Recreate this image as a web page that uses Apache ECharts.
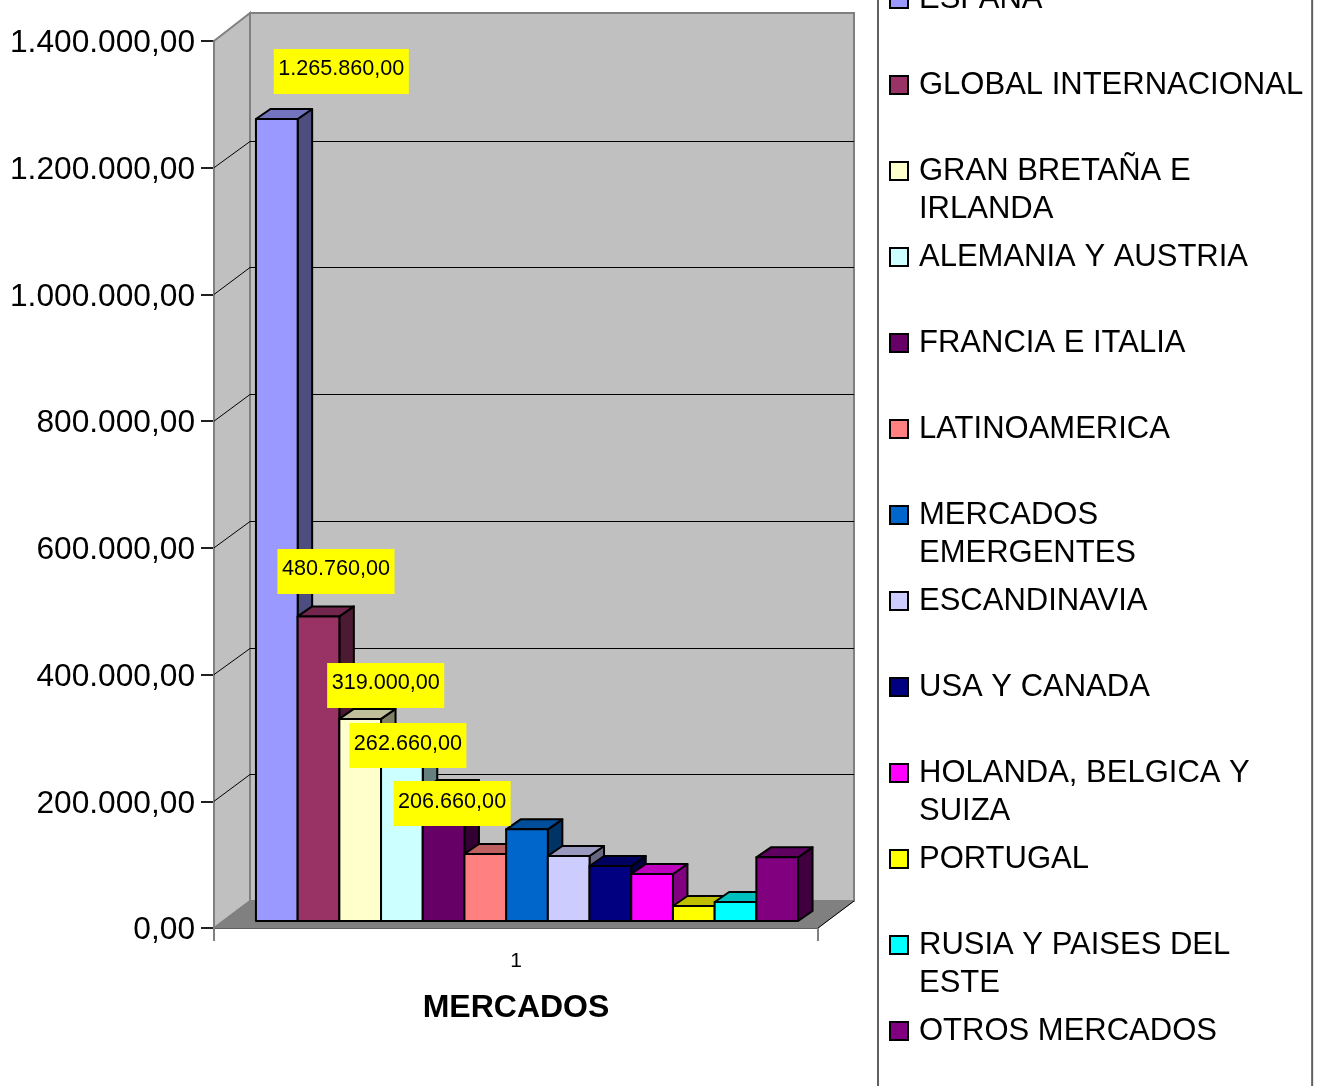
<!DOCTYPE html>
<html>
<head>
<meta charset="utf-8">
<style>html,body{margin:0;padding:0;background:#fff;overflow:hidden}#chart{width:1324px;height:1086px}</style>
<script src="https://cdn.jsdelivr.net/npm/echarts@6/dist/echarts.min.js"></script>
</head>
<body>
<div id="chart"></div>
<script>
// ---- data ----
const categories = ['1'];
const markets = ['ESPAÑA','GLOBAL INTERNACIONAL','GRAN BRETAÑA E\nIRLANDA','ALEMANIA Y AUSTRIA','FRANCIA E ITALIA','LATINOAMERICA','MERCADOS\nEMERGENTES','ESCANDINAVIA','USA Y CANADA','HOLANDA, BELGICA Y\nSUIZA','PORTUGAL','RUSIA Y PAISES DEL\nESTE','OTROS MERCADOS'];
const values = [1265860,480760,319000,262660,206660,105700,144700,102600,86800,74200,23700,30000,100500];
const labelled = [1265860,480760,319000,262660,206660];
const colors = ['#9999ff','#993366','#ffffcc','#ccffff','#660066','#ff8080','#0066cc','#ccccff','#000080','#ff00ff','#ffff00','#00ffff','#800080'];
const yTicks = [0,200000,400000,600000,800000,1000000,1200000,1400000];

// ---- layout ----
const WALL_DX = 36, WALL_DY = 27;
const BAR_W = 41.7, BAR_DX = 14.5, BAR_DY = 10, BAR_SHIFT_X = 11, BAR_SHIFT_Y = 7;
const labelNudge = [[64.5,25],[17.5,22.5],[25.5,11],[6,-13.5],[8.5,-36]];

const fmt = v => {
  const s = String(Math.round(v)).replace(/\B(?=(\d{3})+$)/g,'.');
  return s + ',00';
};
const shade = (hex,f) => {
  const n = parseInt(hex.slice(1),16);
  const c = [n>>16&255,n>>8&255,n&255].map(x=>Math.round(x*f));
  return 'rgb('+c.join(',')+')';
};

function barX(api,i){
  const cx = api.coord([0,0])[0];
  return cx - BAR_W*values.length/2 + BAR_SHIFT_X + i*BAR_W;
}

function renderFrame(params,api){
  const v = api.value(1);
  const p = api.coord([0,v]);
  const s = params.coordSys;
  const L = s.x, R = s.x+s.width, y = p[1];
  const kids = [];
  if(params.dataIndex===0){
    const T = s.y, B = s.y+s.height;
    kids.push({type:'polygon',shape:{points:[[L,T],[L+WALL_DX,T-WALL_DY-1],[L+WALL_DX,B-WALL_DY],[L,B]]},style:{fill:'#c0c0c0',stroke:'#808080',lineWidth:2},z2:1});
    kids.push({type:'rect',shape:{x:L+WALL_DX,y:T-WALL_DY-1,width:s.width,height:s.height+1},style:{fill:'#c0c0c0',stroke:'#808080',lineWidth:2},z2:1});
    kids.push({type:'polygon',shape:{points:[[L,B],[L+WALL_DX,B-WALL_DY],[R+WALL_DX,B-WALL_DY],[R,B]]},style:{fill:'#808080',stroke:'#808080',lineWidth:1},z2:2});
    kids.push({type:'line',shape:{x1:R,y1:B,x2:R+WALL_DX,y2:B-WALL_DY},style:{stroke:'#000',lineWidth:1},z2:3});
    return {type:'group',children:kids};
  }
  if(v<1400000){
    const by = Math.round(y-WALL_DY)+.5;
    kids.push({type:'line',shape:{x1:L,y1:y,x2:L+WALL_DX,y2:by},style:{stroke:'#000',lineWidth:1},z2:3});
    kids.push({type:'line',shape:{x1:L+WALL_DX,y1:by,x2:R+WALL_DX,y2:by},style:{stroke:'#000',lineWidth:1},z2:3});
  }
  return {type:'group',children:kids};
}

function renderBar(i){
  return function(params,api){
    const base = api.coord([0,0]);
    const top = api.coord([0,api.value(1)]);
    const x = barX(api,i), y0 = base[1]-BAR_SHIFT_Y, y1 = top[1]-BAR_SHIFT_Y;
    const w = BAR_W, c = colors[i], z = 10+i;
    const line = {stroke:'#000',lineWidth:2,lineJoin:'round'};
    return {type:'group',children:[
      {type:'polygon',z2:z,shape:{points:[[x+w,y1],[x+w+BAR_DX,y1-BAR_DY],[x+w+BAR_DX,y0-BAR_DY],[x+w,y0]]},style:Object.assign({fill:shade(c,.5)},line)},
      {type:'polygon',z2:z,shape:{points:[[x,y1],[x+BAR_DX,y1-BAR_DY],[x+w+BAR_DX,y1-BAR_DY],[x+w,y1]]},style:Object.assign({fill:shade(c,.75)},line)},
      {type:'rect',z2:z,shape:{x:x,y:y1,width:w,height:y0-y1},style:Object.assign({fill:c},line)}
    ]};
  };
}

function renderLabel(params,api){
  const i = params.dataIndex;
  const top = api.coord([0,api.value(1)]);
  const x = barX(api,i)+BAR_W/2+labelNudge[i][0];
  const y = top[1]-BAR_SHIFT_Y-labelNudge[i][1];
  return {type:'text',z2:100,style:{
    text:fmt(api.value(1)),x:x,y:y,align:'center',verticalAlign:'bottom',
    fill:'#000',font:'21.6px "Liberation Sans"',lineHeight:22,
    backgroundColor:'#ffff00',padding:[9.5,4.5,13.5,4.5]
  }};
}

const series = [
  {type:'custom',name:'frame',z:1,silent:true,clip:false,renderItem:renderFrame,encode:{x:0,y:1},
   data:yTicks.map(v=>[0,v])}
];
markets.forEach((m,i)=>{
  series.push({type:'custom',name:m,z:2,silent:true,clip:false,renderItem:renderBar(i),encode:{x:0,y:1},
    itemStyle:{color:colors[i]},data:[[0,values[i]]]});
});
series.push({type:'custom',name:'labels',z:2,silent:true,clip:false,renderItem:renderLabel,encode:{x:0,y:1},
  data:labelled.map(v=>[0,v])});

const chart = echarts.init(document.getElementById('chart'),null,{renderer:'canvas',width:1324,height:1086});
chart.setOption({
  animation:false,
  backgroundColor:'#fff',
  grid:{left:214,top:41,width:604,height:887,containLabel:false},
  xAxis:{type:'category',data:categories,
    name:'MERCADOS',nameLocation:'middle',nameGap:64,
    nameTextStyle:{fontFamily:'Liberation Sans',fontWeight:'bold',fontSize:32,color:'#000'},
    axisLine:{lineStyle:{color:'#404040',width:2}},
    axisTick:{show:true,length:13,lineStyle:{color:'#808080',width:2},alignWithLabel:false},
    axisLabel:{fontFamily:'Liberation Sans',fontSize:21,color:'#000',margin:23},
    splitLine:{show:false}},
  yAxis:{type:'value',min:0,max:1400000,interval:200000,
    axisLine:{show:true,lineStyle:{color:'#404040',width:2}},
    axisTick:{show:true,length:13,lineStyle:{color:'#202020',width:2}},
    axisLabel:{fontFamily:'Liberation Sans',fontSize:31.7,color:'#000',margin:19,
      formatter:v=>'{a|'+fmt(v)+'}',
      rich:{a:{fontFamily:'Liberation Sans',fontSize:31.7,color:'#000',padding:[5,0,0,0]}}},
    splitLine:{show:false}},
  legend:{
    show:true,orient:'vertical',left:878,top:-28,height:1200,
    data:markets,icon:'path://M1 1H19V19H1ZM0 0M25 58',
    itemWidth:25,itemHeight:58,itemGap:10,padding:[8,9,8,10],
    selectedMode:false,
    backgroundColor:'#fff',borderColor:'#606060',borderWidth:2,borderRadius:0,
    itemStyle:{borderColor:'#000',borderWidth:2},
    textStyle:{fontFamily:'Liberation Sans',fontSize:31,lineHeight:38,color:'#000'},
    formatter:n=>n.indexOf('\n')>=0?n:n+'\n '
  },
  series:series
});
</script>
</body>
</html>
